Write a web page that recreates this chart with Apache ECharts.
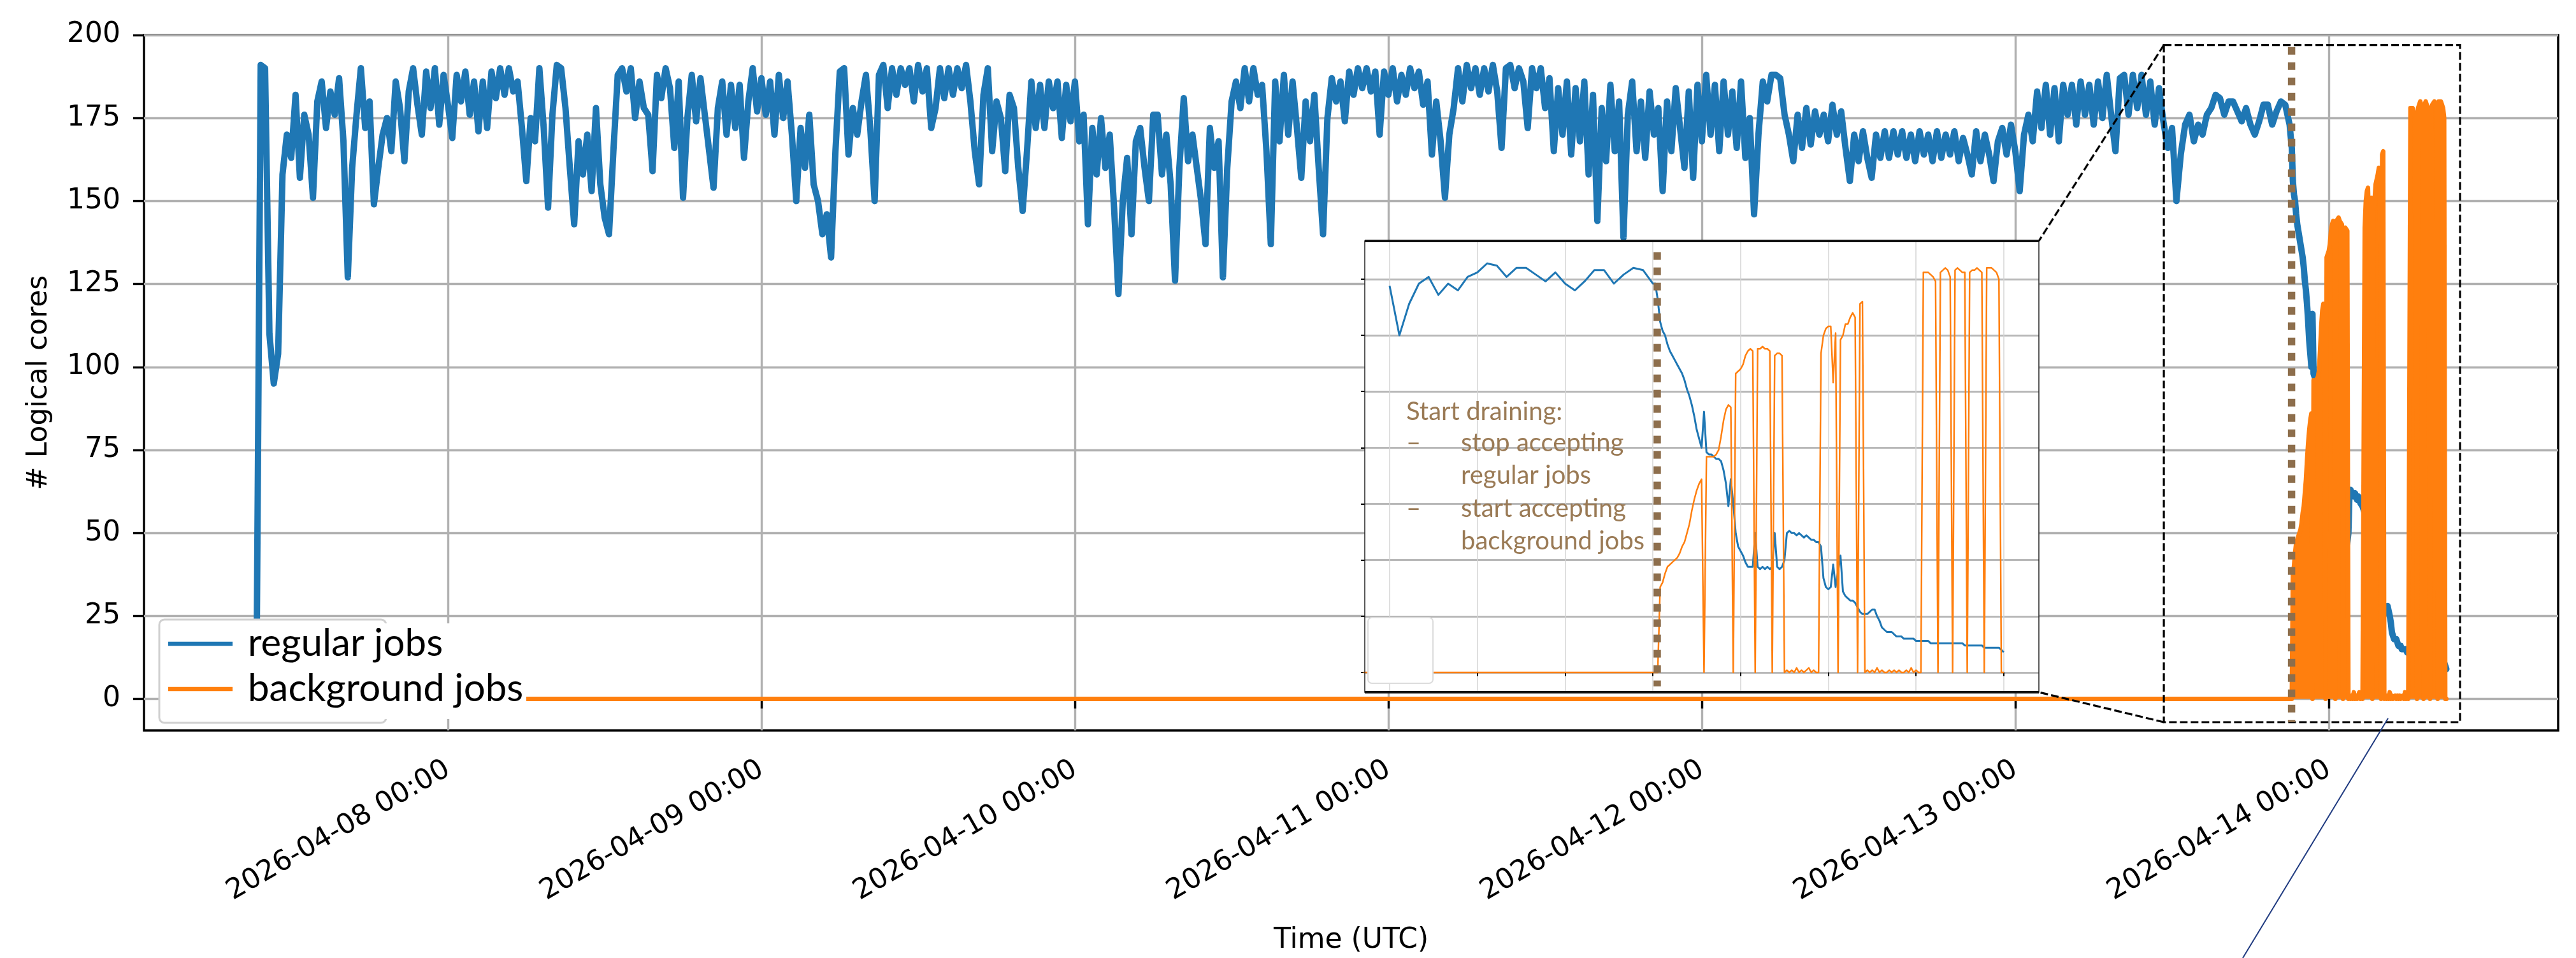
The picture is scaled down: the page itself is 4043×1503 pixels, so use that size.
<!DOCTYPE html>
<html>
<head>
<meta charset="utf-8">
<title>Logical cores</title>
<script src="https://cdn.jsdelivr.net/npm/echarts@6/dist/echarts.min.js"></script>
<style>
  html, body { margin: 0; padding: 0; background: #fff; }
  #chart { width: 4043px; height: 1503px; }
</style>
</head>
<body>
<div id="chart"></div>
<script>
const HOUR = 3600 * 1000;
const T0 = Date.UTC(2026, 3, 7); // 2026-04-07 00:00 UTC

// regular jobs: one value every 20 min, 2026-04-07 09:20 .. 2026-04-13 21:00
const regularStartHour = 9 + 20 / 60;
const regularCores = [
  2, 191, 190, 110, 95, 104, 158, 170, 163, 182, 157, 176, 170, 151, 180, 186, 172, 183,
  176, 187, 168, 127, 160, 176, 190, 172, 180, 149, 160, 170, 175, 165, 186, 178, 162, 183,
  190, 179, 170, 189, 178, 190, 173, 188, 179, 169, 188, 180, 189, 176, 186, 171, 186, 172,
  189, 181, 190, 182, 190, 183, 186, 172, 156, 175, 168, 190, 172, 148, 176, 191, 190, 178,
  160, 143, 168, 158, 170, 153, 178, 155, 145, 140, 165, 188, 190, 183, 190, 175, 186, 178,
  176, 159, 188, 181, 190, 184, 166, 186, 151, 175, 188, 174, 187, 176, 165, 154, 178, 186,
  170, 185, 172, 185, 163, 180, 190, 177, 187, 176, 186, 170, 188, 175, 186, 170, 150, 172,
  160, 176, 155, 150, 140, 146, 133, 165, 189, 190, 164, 178, 170, 180, 188, 172, 150, 188,
  191, 178, 190, 182, 190, 185, 190, 180, 191, 183, 190, 172, 178, 190, 181, 190, 182, 190,
  184, 191, 180, 165, 155, 182, 190, 165, 180, 175, 159, 182, 178, 160, 147, 165, 186, 172,
  185, 172, 186, 178, 186, 169, 185, 174, 186, 168, 176, 143, 172, 158, 175, 160, 170, 148,
  122, 150, 163, 140, 168, 172, 160, 150, 176, 176, 158, 170, 155, 126, 160, 181, 162, 170,
  160, 150, 137, 172, 160, 168, 127, 160, 180, 186, 178, 190, 180, 190, 182, 185, 165, 137,
  186, 168, 188, 170, 186, 172, 157, 180, 168, 182, 160, 140, 175, 187, 180, 186, 174, 189,
  182, 190, 184, 190, 183, 189, 170, 189, 182, 190, 180, 188, 182, 190, 184, 189, 179, 186,
  164, 180, 168, 151, 170, 178, 190, 180, 191, 184, 190, 182, 190, 183, 191, 183, 166, 190,
  191, 184, 190, 186, 172, 190, 184, 190, 178, 187, 165, 184, 170, 186, 164, 184, 168, 186,
  158, 182, 144, 178, 162, 185, 165, 180, 139, 176, 186, 165, 180, 163, 183, 170, 178, 153,
  180, 165, 184, 172, 160, 183, 157, 185, 168, 188, 170, 185, 165, 186, 170, 183, 166, 186,
  163, 175, 146, 170, 186, 180, 188, 188, 187, 176, 170, 162, 176, 166, 178, 167, 177, 170,
  176, 168, 179, 170, 177, 166, 156, 170, 162, 171, 163, 157, 170, 163, 171, 163, 171, 164,
  171, 163, 170, 162, 171, 164, 170, 162, 171, 163, 170, 164, 171, 162, 169, 164, 158, 171,
  162, 170, 164, 156, 168, 172, 164, 173, 165, 153, 170, 176, 168, 183, 172, 185, 170, 184,
  168, 185, 176, 185, 173, 186, 176, 185, 173, 186, 175, 188, 176, 165, 187, 188, 176, 188,
  178, 188, 176, 186, 173, 184, 174, 166, 172, 150, 164, 173, 176, 168, 173, 170, 176, 178,
  182, 181, 176, 180, 180, 177, 174, 178, 173, 170, 174, 179, 179, 173, 177, 180, 179, 173
];

// after draining starts: one value every 5 min, 2026-04-13 21:05 .. 2026-04-14 09:00
const drainStartHour = 165 + 5 / 60;
const drainRegularCores = [
  173, 166, 156, 152, 150, 146, 143, 141, 139, 137, 135, 133, 130, 126, 123, 119, 114, 108,
  104, 100, 116, 98, 97, 97, 96, 95, 95, 94, 90, 84, 74, 86, 75, 62, 56, 54, 52, 49,
  47, 47, 47, 62, 47, 46, 47, 46, 47, 46, 47, 62, 47, 46, 47, 50, 62, 63, 62, 62,
  61, 62, 61, 60, 61, 60, 59, 59, 58, 58, 56, 42, 38, 37, 38, 48, 38, 45, 52, 36,
  34, 33, 32, 32, 31, 29, 27, 26, 26, 26, 27, 28, 28, 25, 23, 20, 19, 18, 18, 18,
  17, 16, 16, 16, 15, 15, 15, 15, 15, 14, 14, 14, 14, 14, 14, 13, 13, 13, 13, 13,
  13, 13, 13, 13, 13, 13, 13, 13, 13, 12, 12, 12, 12, 12, 12, 12, 12, 11, 11, 11,
  11, 11, 11, 11, 10, 9
];
const drainBackgroundCores = [
  0, 0, 38, 40, 44, 47, 48, 49, 50, 51, 53, 56, 58, 62, 66, 72, 77, 81, 84, 86,
  0, 96, 96, 96, 96, 97, 99, 105, 112, 117, 119, 118, 0, 133, 134, 135, 137, 141, 143, 144,
  143, 0, 144, 144, 145, 144, 144, 143, 0, 141, 142, 142, 141, 0, 1, 0, 1, 0, 2, 0,
  1, 0, 1, 2, 0, 1, 0, 0, 142, 150, 153, 154, 154, 129, 151, 0, 148, 150, 155, 155,
  158, 160, 158, 0, 164, 165, 0, 1, 0, 1, 0, 2, 0, 1, 0, 0, 1, 0, 1, 0,
  1, 0, 0, 1, 0, 2, 0, 1, 0, 0, 178, 178, 178, 177, 176, 174, 0, 178, 179, 180,
  179, 176, 0, 179, 180, 179, 178, 178, 0, 178, 179, 179, 180, 179, 178, 0, 180, 180, 180, 179,
  178, 175, 0, 0
];
// background jobs sit at zero until draining starts
const idleBackgroundHours = [regularStartHour, 165];
const idleBackgroundCores = [0, 0];

const dayTickHours = [24, 48, 72, 96, 120, 144, 168];
const coreTicks = [0, 25, 50, 75, 100, 125, 150, 175, 200];
const insetHourTicks = [156, 159, 162, 165, 168, 171, 174, 177];
const insetCoreTicks = [0, 25, 50, 75, 100, 125, 150, 175];
const drainHour = 165.15;
const insetFromHour = 156;
const seriesNames = ['regular jobs', 'background jobs'];

const BLUE = '#1f77b4';
const ORANGE = '#ff7f0e';
const BROWN = '#8d6e4c';
const NOTE = '#9a7a55';

const t = h => T0 + h * HOUR;
const regularData = regularCores.map((v, i) => [t(regularStartHour + i / 3), v])
  .concat(drainRegularCores.map((v, i) => [t(drainStartHour + i / 12), v]));
const backgroundData = idleBackgroundHours.map((h, i) => [t(h), idleBackgroundCores[i]])
  .concat(drainBackgroundCores.map((v, i) => [t(drainStartHour + i / 12), v]));

function fmtTime(val) {
  const d = new Date(val);
  const p = n => String(n).padStart(2, '0');
  return d.getUTCFullYear() + '-' + p(d.getUTCMonth() + 1) + '-' + p(d.getUTCDate()) +
    ' ' + p(d.getUTCHours()) + ':' + p(d.getUTCMinutes());
}

const axisFont = { fontFamily: 'DejaVu Sans', fontSize: 44, color: '#000' };

const chart = echarts.init(document.getElementById('chart'), null, { renderer: 'canvas' });

const option = {
  animation: false,
  backgroundColor: '#fff',
  grid: [
    { left: 226, right: 28, top: 55, bottom: 349, show: true, borderColor: '#000', borderWidth: 3.5 },
    { left: 2142, top: 378, width: 1058, height: 708 }
  ],
  xAxis: [
    {
      type: 'value', gridIndex: 0,
      min: t(0.73), max: t(185.56),
      axisLine: { show: false },
      axisTick: { show: true, length: 15, lineStyle: { color: '#000', width: 3.4 }, customValues: dayTickHours.map(t) },
      axisLabel: Object.assign({ customValues: dayTickHours.map(t), rotate: 30, margin: 58, formatter: fmtTime }, axisFont),
      splitLine: { show: true, lineStyle: { color: '#b0b0b0', width: 3.4 } },
      name: 'Time (UTC)', nameLocation: 'middle', nameGap: 308,
      nameTextStyle: axisFont
    },
    {
      type: 'value', gridIndex: 1, z: 6,
      min: t(155.15), max: t(178.2),
      axisLine: { show: false },
      axisTick: { show: true, length: 6, lineStyle: { color: '#000', width: 2 }, customValues: insetHourTicks.map(t) },
      axisLabel: { show: false, customValues: insetHourTicks.map(t) },
      splitLine: { show: true, lineStyle: { color: '#d4d4d4', width: 1.5 } }
    }
  ],
  yAxis: [
    {
      type: 'value', gridIndex: 0,
      min: -9.5, max: 200,
      axisLine: { show: false },
      axisTick: { show: true, length: 17, lineStyle: { color: '#000', width: 3.4 }, customValues: coreTicks },
      axisLabel: Object.assign({ customValues: coreTicks, margin: 37 }, axisFont),
      splitLine: { show: true, lineStyle: { color: '#b0b0b0', width: 3.4 } },
      name: '# Logical cores', nameLocation: 'middle', nameGap: 142,
      nameTextStyle: axisFont
    },
    {
      type: 'value', gridIndex: 1, z: 6,
      min: -8.8, max: 192,
      axisLine: { show: false },
      axisTick: { show: true, length: 6, lineStyle: { color: '#000', width: 2 }, customValues: insetCoreTicks },
      axisLabel: { show: false, customValues: insetCoreTicks },
      splitLine: { show: true, lineStyle: { color: '#b8b8b8', width: 3 } }
    }
  ],
  series: [
    {
      name: seriesNames[0], type: 'line', xAxisIndex: 0, yAxisIndex: 0, z: 2,
      data: regularData, showSymbol: false,
      lineStyle: { color: BLUE, width: 10, join: 'round', cap: 'round' }
    },
    {
      // the main panel shows the background bursts as solid blocks
      name: seriesNames[1], type: 'line', xAxisIndex: 0, yAxisIndex: 0, z: 3,
      data: backgroundData, showSymbol: false,
      lineStyle: { color: ORANGE, width: 7, join: 'round', cap: 'round' },
      areaStyle: { color: ORANGE, opacity: 1 }
    },
    {
      name: seriesNames[0] + ' (zoom)', type: 'line', xAxisIndex: 1, yAxisIndex: 1, z: 8,
      data: regularData.filter(d => d[0] >= t(insetFromHour)), showSymbol: false,
      lineStyle: { color: BLUE, width: 3, join: 'round' }
    },
    {
      name: seriesNames[1] + ' (zoom)', type: 'line', xAxisIndex: 1, yAxisIndex: 1, z: 8,
      data: backgroundData, showSymbol: false,
      lineStyle: { color: ORANGE, width: 2.5, join: 'round' }
    }
  ]
};

chart.setOption(option);

// annotations placed through the axes' own scales
const px = (g, h, v) => chart.convertToPixel({ gridIndex: g }, [t(h), v]);
const boxTL = px(0, 155.37, 197);
const boxBR = px(0, 178.05, -7);
const inTL = px(1, 155.15, 192);
const inBR = px(1, 178.2, -8.8);
const drainTop = px(0, drainHour, 196.4);
const drainBot = px(0, drainHour, -7);
const inDrainTop = px(1, drainHour, 187);
const inDrainBot = px(1, drainHour, -6.2);

const dashed = { stroke: '#000', lineWidth: 3.2, lineDash: [12, 5], fill: null };
const dotted = { stroke: BROWN, lineWidth: 11.5, lineDash: [12, 12], lineCap: 'butt' };
const noteFont = '40px Lato';
const legendFont = '60px Lato';

const graphics = [
  // inset backing and frame
  { type: 'rect', z: 5, silent: true, shape: { x: inTL[0], y: inTL[1], width: inBR[0] - inTL[0], height: inBR[1] - inTL[1] }, style: { fill: '#fff' } },
  { type: 'rect', z: 9, silent: true, shape: { x: inTL[0], y: inTL[1], width: inBR[0] - inTL[0], height: inBR[1] - inTL[1] }, style: { fill: null, stroke: '#222', lineWidth: 1.5 } },
  { type: 'line', z: 9, silent: true, shape: { x1: inTL[0], y1: inTL[1], x2: inBR[0], y2: inTL[1] }, style: { stroke: '#111', lineWidth: 4 } },
  { type: 'line', z: 9, silent: true, shape: { x1: inTL[0], y1: inBR[1], x2: inBR[0], y2: inBR[1] }, style: { stroke: '#111', lineWidth: 4 } },
  // empty legend frame inside the inset
  { type: 'rect', z: 9, silent: true, shape: { x: inTL[0] + 5, y: 969, width: 102, height: 103, r: 6 }, style: { fill: '#fff', stroke: '#dcdcdc', lineWidth: 2 } },
  // zoom box and connectors
  { type: 'rect', z: 7, silent: true, shape: { x: boxTL[0], y: boxTL[1], width: boxBR[0] - boxTL[0], height: boxBR[1] - boxTL[1] }, style: dashed },
  { type: 'line', z: 7, silent: true, shape: { x1: boxTL[0], y1: boxTL[1], x2: inBR[0], y2: inTL[1] }, style: dashed },
  { type: 'line', z: 7, silent: true, shape: { x1: boxTL[0], y1: boxBR[1], x2: inBR[0], y2: inBR[1] }, style: dashed },
  // draining start
  { type: 'line', z: 7, silent: true, shape: { x1: drainTop[0], y1: drainTop[1], x2: drainBot[0], y2: drainBot[1] }, style: dotted },
  { type: 'line', z: 9, silent: true, shape: { x1: inDrainTop[0], y1: inDrainTop[1], x2: inDrainBot[0], y2: inDrainBot[1] }, style: dotted },
  // note inside the inset
  { type: 'text', z: 9, silent: true, x: 2207, y: 646, style: { text: 'Start draining:', font: noteFont, fill: NOTE, verticalAlign: 'middle' } },
  { type: 'text', z: 9, silent: true, x: 2207, y: 695, style: { text: '–', font: noteFont, fill: NOTE, verticalAlign: 'middle' } },
  { type: 'text', z: 9, silent: true, x: 2293, y: 695, style: { text: 'stop accepting', font: noteFont, fill: NOTE, verticalAlign: 'middle' } },
  { type: 'text', z: 9, silent: true, x: 2293, y: 746, style: { text: 'regular jobs', font: noteFont, fill: NOTE, verticalAlign: 'middle' } },
  { type: 'text', z: 9, silent: true, x: 2207, y: 798, style: { text: '–', font: noteFont, fill: NOTE, verticalAlign: 'middle' } },
  { type: 'text', z: 9, silent: true, x: 2293, y: 798, style: { text: 'start accepting', font: noteFont, fill: NOTE, verticalAlign: 'middle' } },
  { type: 'text', z: 9, silent: true, x: 2293, y: 849, style: { text: 'background jobs', font: noteFont, fill: NOTE, verticalAlign: 'middle' } },
  // main legend
  { type: 'rect', z: 10, silent: true, shape: { x: 250, y: 972, width: 356, height: 162, r: 8 }, style: { fill: '#fff', stroke: '#d0d0d0', lineWidth: 3 } },
  { type: 'rect', z: 10, silent: true, shape: { x: 378, y: 978, width: 448, height: 150 }, style: { fill: '#fff' } },
  { type: 'line', z: 10, silent: true, shape: { x1: 264, y1: 1010, x2: 365, y2: 1010 }, style: { stroke: BLUE, lineWidth: 6.5 } },
  { type: 'line', z: 10, silent: true, shape: { x1: 264, y1: 1081, x2: 365, y2: 1081 }, style: { stroke: ORANGE, lineWidth: 6.5 } },
  { type: 'text', z: 10, silent: true, x: 389, y: 1010, style: { text: seriesNames[0], font: legendFont, fill: '#000', verticalAlign: 'middle' } },
  { type: 'text', z: 10, silent: true, x: 389, y: 1081, style: { text: seriesNames[1], font: legendFont, fill: '#000', verticalAlign: 'middle' } },
  // pointer line running off the bottom edge
  { type: 'line', z: 10, silent: true, shape: { x1: 3748, y1: 1127, x2: 3520, y2: 1503 }, style: { stroke: '#1f3a80', lineWidth: 2 } }
];

chart.setOption({ graphic: graphics });
</script>
</body>
</html>
